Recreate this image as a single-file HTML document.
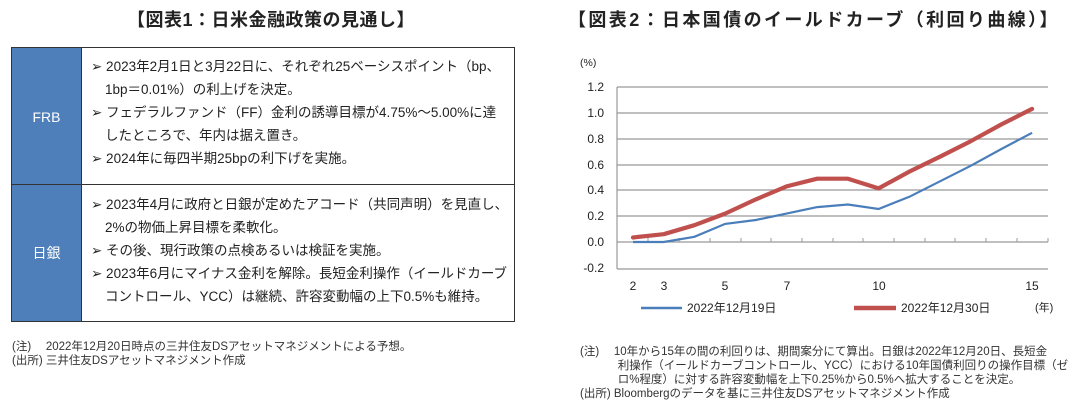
<!DOCTYPE html>
<html><head><meta charset="utf-8"><style>
body{margin:0;width:1087px;height:412px;background:#fff;position:relative;overflow:hidden;font-family:"Liberation Sans","Noto Sans CJK JP",sans-serif;color:#222}
.a{position:absolute;white-space:nowrap}
.t{font-weight:bold;font-size:18px;color:#222}
.tb{position:absolute;left:11px;top:47px;width:504px;height:275px;border:1.5px solid #333;box-sizing:border-box}
.lab{position:absolute;left:0;width:69px;background:#4f7fba;color:#fff;font-size:14px;display:flex;align-items:center;justify-content:center;border-right:1.5px solid #333}
.row{position:absolute;left:69px;right:0;font-size:13.5px;line-height:23px;padding-left:10px}
.row div{padding-left:14px;text-indent:-14px;white-space:nowrap}
.n{font-size:11.5px;line-height:14px;color:#333;transform:none}
</style></head><body>
<div class="a t" style="left:127px;top:6px;letter-spacing:0.5px">【図表1：日米金融政策の見通し】</div>
<div class="a t" style="left:568px;top:6px;letter-spacing:2.4px">【図表2：日本国債のイールドカーブ（利回り曲線）】</div>
<div class="tb">
<div class="lab" style="top:0;height:137px">FRB</div>
<div class="lab" style="top:137px;height:136px">日銀</div>
<div style="position:absolute;left:0;right:0;top:136px;border-top:1.5px solid #333"></div>
<div class="row" style="top:7px">
<div>➢ 2023年2月1日と3月22日に、それぞれ25ベーシスポイント（bp、<br>1bp＝0.01%）の利上げを決定。</div>
<div>➢ フェデラルファンド（FF）金利の誘導目標が4.75%～5.00%に達<br>したところで、年内は据え置き。</div>
<div>➢ 2024年に毎四半期25bpの利下げを実施。</div>
</div>
<div class="row" style="top:145px">
<div>➢ 2023年4月に政府と日銀が定めたアコード（共同声明）を見直し、<br>2%の物価上昇目標を柔軟化。</div>
<div>➢ その後、現行政策の点検あるいは検証を実施。</div>
<div>➢ 2023年6月にマイナス金利を解除。長短金利操作（イールドカーブ<br>コントロール、YCC）は継続、許容変動幅の上下0.5%も維持。</div>
</div>
</div>
<div class="a n" style="left:12px;top:340px">(注)　 2022年12月20日時点の三井住友DSアセットマネジメントによる予想。<br>(出所) 三井住友DSアセットマネジメント作成</div>
<div class="a n" style="left:580px;top:345px">(注)　 10年から15年の間の利回りは、期間案分にて算出。日銀は2022年12月20日、長短金<br>　　　 利操作（イールドカーブコントロール、YCC）における10年国債利回りの操作目標（ゼ<br>　　　 ロ%程度）に対する許容変動幅を上下0.25%から0.5%へ拡大することを決定。<br>(出所) Bloombergのデータを基に三井住友DSアセットマネジメント作成</div>
<svg class="a" style="left:0;top:0" width="1087" height="412" font-family="Liberation Sans, Noto Sans CJK JP, sans-serif" font-size="12" fill="#222">
<g stroke="#999" stroke-width="1.2">
<line x1="617" y1="87" x2="1048" y2="87"/><line x1="617" y1="113" x2="1048" y2="113"/><line x1="617" y1="139" x2="1048" y2="139"/><line x1="617" y1="165" x2="1048" y2="165"/><line x1="617" y1="190" x2="1048" y2="190"/><line x1="617" y1="216" x2="1048" y2="216"/><line x1="617" y1="242" x2="1048" y2="242"/><line x1="617" y1="269" x2="1048" y2="269"/><line x1="617" y1="87" x2="617" y2="269"/>
</g>
<g stroke="#999" stroke-width="1">
<path d="M648 238v4M679 238v4M710 238v4M741 238v4M771 238v4M802 238v4M833 238v4M863 238v4M894 238v4M925 238v4M955 238v4M986 238v4M1017 238v4M1048 238v4"/>
</g>
<g text-anchor="end"><text x="604" y="91">1.2</text><text x="604" y="117">1.0</text><text x="604" y="143">0.8</text><text x="604" y="169">0.6</text><text x="604" y="194">0.4</text><text x="604" y="220">0.2</text><text x="604" y="246">0.0</text><text x="604" y="272">-0.2</text></g>
<text x="580" y="66" font-size="10.5">(%)</text>
<g text-anchor="middle"><text x="633" y="290">2</text><text x="664" y="290">3</text><text x="725" y="290">5</text><text x="787" y="290">7</text><text x="879" y="290">10</text><text x="1032" y="290">15</text></g>
<text x="1035" y="311" font-size="11">(年)</text>
<polyline fill="none" stroke="#4a7ebb" stroke-width="2.2" points="633,242 663.7,242 694.4,236.8 725.1,223.9 755.8,220 786.5,213.6 817.2,207.1 847.9,204.5 878.6,209 909.3,196.8 940,181.3 970.7,165.8 1001.4,149 1032.1,132.8"/>
<polyline fill="none" stroke="#c0504d" stroke-width="4.2" stroke-linejoin="round" stroke-linecap="round" points="633,237.5 663.7,234.2 694.4,225.2 725.1,213.6 755.8,199.4 786.5,186.4 817.2,178.7 847.9,178.7 878.6,188.4 909.3,171.6 940,156.7 970.7,141.2 1001.4,124.4 1032.1,108.9"/>
<line x1="641" y1="308" x2="682" y2="308" stroke="#4a7ebb" stroke-width="2.5"/>
<text x="687" y="312">2022年12月19日</text>
<line x1="854" y1="308" x2="896" y2="308" stroke="#c0504d" stroke-width="4.5"/>
<text x="901" y="312">2022年12月30日</text>
</svg>
</body></html>
